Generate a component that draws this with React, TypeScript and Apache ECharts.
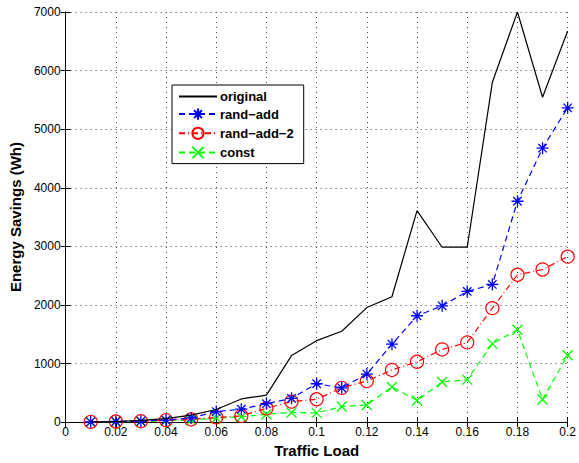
import React, { useEffect, useRef } from "react";
import * as echarts from "echarts";

const xValues = [0.01, 0.02, 0.03, 0.04, 0.05, 0.06, 0.07, 0.08, 0.09, 0.1, 0.11, 0.12, 0.13, 0.14, 0.15, 0.16, 0.17, 0.18, 0.19, 0.2];
const original = [5, 10, 30, 60, 120, 215, 395, 460, 1135, 1390, 1550, 1955, 2140, 3610, 2985, 2985, 5800, 7000, 5545, 6675];
const randAdd = [5, 10, 15, 35, 70, 180, 220, 315, 405, 655, 585, 820, 1330, 1815, 1985, 2230, 2350, 3770, 4675, 5365];
const randAdd2 = [5, 10, 15, 35, 45, 80, 105, 235, 350, 390, 585, 700, 890, 1030, 1240, 1360, 1945, 2515, 2605, 2825];
const constant = [3, 8, 12, 22, 35, 65, 90, 135, 165, 157, 265, 292, 600, 370, 685, 725, 1340, 1575, 385, 1140];
const seriesNames = ["original", "rand−add", "rand−add−2", "const"];

const ASTERISK = "path://M5,0L5,10M0,5L10,5M1.5,1.5L8.5,8.5M8.5,1.5L1.5,8.5";
const CROSS = "path://M0,0L10,10M10,0L0,10";

const FONT = "Liberation Sans, Arial, Helvetica, sans-serif";

export default function App() {
  const ref = useRef<HTMLDivElement>(null);
  useEffect(() => {
    if (!ref.current) return;
    const chart = echarts.init(ref.current, undefined, { renderer: "svg" });
    const pair = (ys: number[]) => xValues.map((x, i) => [x, ys[i]]);
    const fmtX = (v: number) => parseFloat(v.toFixed(2)).toString();
    const gridLine = { show: true, lineStyle: { color: "#444", type: [1, 4] as any, width: 1 } };
    chart.setOption({
      animation: false,
      backgroundColor: "#fff",
      textStyle: { fontFamily: FONT },
      grid: { left: 62, right: 9, top: 12, bottom: 35, containLabel: false },
      legend: {
        left: 172,
        top: 85,
        orient: "vertical",
        backgroundColor: "#fff",
        borderColor: "#000",
        borderWidth: 1,
        padding: [5, 10, 3, 6],
        itemGap: 3,
        itemWidth: 38,
        itemHeight: 14,
        textStyle: { fontFamily: FONT, fontWeight: "bold", fontSize: 13, color: "#000", padding: [0, 0, 0, -2] },
        data: [
          { name: seriesNames[0], itemStyle: { opacity: 0 } },
          seriesNames[1],
          seriesNames[2],
          seriesNames[3],
        ],
      },
      xAxis: [
        {
          type: "value",
          min: 0,
          max: 0.2,
          interval: 0.02,
          name: "Traffic Load",
          nameLocation: "middle",
          nameGap: 19,
          nameTextStyle: { fontFamily: FONT, fontWeight: "bold", fontSize: 15, color: "#000" },
          axisLine: { show: true, onZero: false, lineStyle: { color: "#000" } },
          axisTick: { show: true, inside: true, length: 5, lineStyle: { color: "#000" } },
          axisLabel: { color: "#000", fontSize: 12, margin: 4, formatter: fmtX, fontFamily: FONT },
          splitLine: gridLine,
        },
        {
          type: "value",
          position: "top",
          min: 0,
          max: 0.2,
          interval: 0.02,
          axisLine: { show: true, lineStyle: { color: "#000" } },
          axisTick: { show: true, inside: true, length: 5, lineStyle: { color: "#000" } },
          axisLabel: { show: false },
          splitLine: { show: false },
        },
      ],
      yAxis: [
        {
          type: "value",
          min: 0,
          max: 7000,
          interval: 1000,
          name: "Energy Savings (Wh)",
          nameLocation: "middle",
          nameGap: 39,
          nameTextStyle: { fontFamily: FONT, fontWeight: "bold", fontSize: 15, color: "#000" },
          axisLine: { show: true, lineStyle: { color: "#000" } },
          axisTick: { show: true, inside: true, length: 5, lineStyle: { color: "#000" } },
          axisLabel: { color: "#000", fontSize: 12, margin: 5, fontFamily: FONT, formatter: (v: number) => String(v) },
          splitLine: gridLine,
        },
        {
          type: "value",
          position: "right",
          min: 0,
          max: 7000,
          interval: 1000,
          axisLine: { show: true, lineStyle: { color: "#000" } },
          axisTick: { show: true, inside: true, length: 5, lineStyle: { color: "#000" } },
          axisLabel: { show: false },
          splitLine: { show: false },
        },
      ],
      series: [
        {
          name: seriesNames[0],
          type: "line",
          data: pair(original),
          symbol: "none",
          lineStyle: { color: "#000", width: 1.2, type: "solid" },
          itemStyle: { color: "#000" },
          z: 5,
        },
        {
          name: seriesNames[1],
          type: "line",
          data: pair(randAdd),
          symbol: ASTERISK,
          symbolSize: 12,
          lineStyle: { color: "#0000ff", width: 1.2, type: [6, 4] },
          itemStyle: { color: "none", borderColor: "#0000ff", borderWidth: 1.3 },
          z: 4,
        },
        {
          name: seriesNames[2],
          type: "line",
          data: pair(randAdd2),
          symbol: "circle",
          symbolSize: 13,
          lineStyle: { color: "#ff0000", width: 1.2, type: [6, 3, 1, 3] },
          itemStyle: { color: "none", borderColor: "#ff0000", borderWidth: 1.2 },
          z: 3,
        },
        {
          name: seriesNames[3],
          type: "line",
          data: pair(constant),
          symbol: CROSS,
          symbolSize: 10,
          lineStyle: { color: "#00ff00", width: 1.2, type: [6, 4] },
          itemStyle: { color: "none", borderColor: "#00ff00", borderWidth: 1.3 },
          z: 2,
        },
      ],
    });
    return () => chart.dispose();
  }, []);
  return <div ref={ref} style={{ width: 579, height: 463, position: "absolute", left: 0, top: 0 }} />;
}
